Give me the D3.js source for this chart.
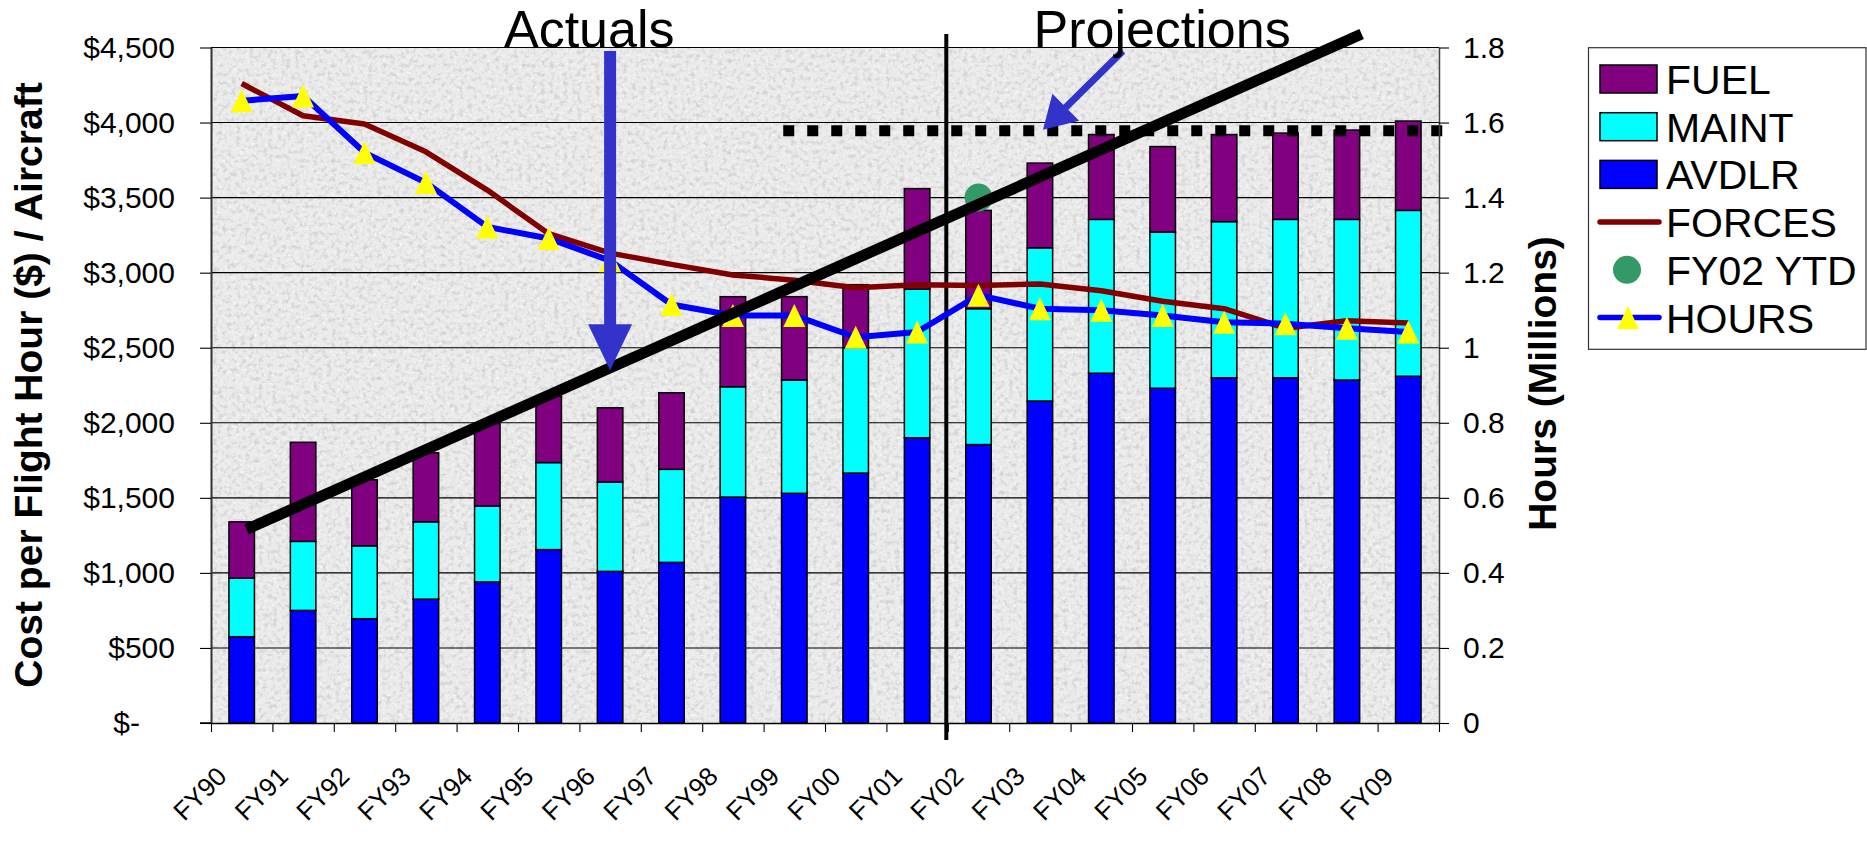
<!DOCTYPE html>
<html>
<head>
<meta charset="utf-8">
<script src="https://cdn.jsdelivr.net/npm/d3@7"></script>
<style>
  html, body { margin: 0; padding: 0; background: #ffffff; }
  svg { display: block; font-family: Arial, "Liberation Sans", sans-serif; }
</style>
</head>
<body>
<svg id="chart" width="1867" height="848"></svg>
<script>
// ---- Data: cost per flight hour components ($) and flying hours (millions) ----
const categories = ["FY90","FY91","FY92","FY93","FY94","FY95","FY96","FY97","FY98","FY99",
                    "FY00","FY01","FY02","FY03","FY04","FY05","FY06","FY07","FY08","FY09"];
const avdlr  = [575, 750, 695, 825, 940, 1155, 1010, 1070, 1505, 1530, 1665, 1900, 1855, 2145, 2330, 2230, 2300, 2300, 2285, 2310];
const maint  = [390, 460, 485, 515, 505, 580, 595, 620, 735, 755, 835, 990, 905, 1020, 1025, 1040, 1040, 1055, 1070, 1105];
const fuel   = [375, 660, 440, 460, 550, 445, 495, 510, 600, 555, 420, 670, 655, 565, 565, 570, 580, 575, 595, 595];
const forces = [4260, 4045, 3990, 3805, 3550, 3260, 3130, 3055, 2985, 2950, 2900, 2920, 2915, 2925, 2880, 2810, 2760, 2630, 2680, 2665];
const hours  = [1.658, 1.671, 1.52, 1.44, 1.322, 1.291, 1.232, 1.115, 1.086, 1.086, 1.028, 1.042, 1.14, 1.104, 1.10, 1.086, 1.068, 1.064, 1.052, 1.042];
const fy02Ytd = { index: 12, hours: 1.40 };

const costTicks = [0, 500, 1000, 1500, 2000, 2500, 3000, 3500, 4000, 4500];
const hourTicks = [0, 0.2, 0.4, 0.6, 0.8, 1.0, 1.2, 1.4, 1.6, 1.8];

// Annotation geometry in category units (x) and dollars (y)
const ceilingLevel = 3945;
const ceilingSpan = [9.32, 20.06];
const trendEnds = [[0.58, 1290], [18.74, 4590]];
const actualsArrow = [[6.5, 4476], [6.5, 2350]];
const projectionsArrow = [[14.85, 4476], [13.55, 3952]];
const phaseSplit = 12;   // boundary between FY01 and FY02

const seriesNames = ["AVDLR", "MAINT", "FUEL"];
const colors = { FUEL: "#800080", MAINT: "#00ffff", AVDLR: "#0000ff", FORCES: "#800000", YTD: "#339966", HOURS: "#0000ff", MARK: "#ffff00", NOTE: "#3333cc" };

// ---- Layout ----
const plot = { left: 211, right: 1439, top: 47.5, bottom: 723 };
const svg = d3.select("#chart");

const pos = d3.scaleLinear().domain([0, categories.length]).range([plot.left, plot.right]);
const yCost = d3.scaleLinear().domain([0, 4500]).range([plot.bottom, plot.top]);
const yHours = d3.scaleLinear().domain([0, 1.8]).range([plot.bottom, plot.top]);
const barW = 25.5;

// ---- Granite plot-area fill ----
const defs = svg.append("defs");
function noiseFilter(id, freq, seed, matrix) {
  const f = defs.append("filter").attr("id", id)
    .attr("filterUnits", "userSpaceOnUse")
    .attr("x", plot.left).attr("y", plot.top)
    .attr("width", plot.right - plot.left).attr("height", plot.bottom - plot.top);
  f.append("feTurbulence").attr("type", "fractalNoise")
    .attr("baseFrequency", freq).attr("numOctaves", 3).attr("seed", seed);
  f.append("feColorMatrix").attr("type", "matrix").attr("values", matrix);
}
noiseFilter("graniteDark", 0.22, 11, "0 0 0 0 0.5  0 0 0 0 0.5  0 0 0 0 0.5  2.8 0 0 0 -1.3");
noiseFilter("graniteLight", 0.35, 5, "0 0 0 0 1  0 0 0 0 1  0 0 0 0 1  -3 0 0 0 1.3");

const bg = svg.append("g");
bg.append("rect").attr("x", plot.left).attr("y", plot.top)
  .attr("width", plot.right - plot.left).attr("height", plot.bottom - plot.top)
  .attr("fill", "#ebebeb");
bg.append("rect").attr("x", plot.left).attr("y", plot.top)
  .attr("width", plot.right - plot.left).attr("height", plot.bottom - plot.top)
  .attr("fill", "#000").attr("filter", "url(#graniteDark)").attr("opacity", 0.55);
bg.append("rect").attr("x", plot.left).attr("y", plot.top)
  .attr("width", plot.right - plot.left).attr("height", plot.bottom - plot.top)
  .attr("fill", "#000").attr("filter", "url(#graniteLight)").attr("opacity", 0.8);

// ---- Gridlines ----
svg.append("g").selectAll("line")
  .data(costTicks.filter(d => d > 0))
  .join("line")
  .attr("x1", plot.left).attr("x2", plot.right)
  .attr("y1", d => yCost(d)).attr("y2", d => yCost(d))
  .attr("stroke", "#000").attr("stroke-width", 1.1);

// ---- Stacked bars ----
const rows = categories.map((c, i) => ({ cat: c, i, AVDLR: avdlr[i], MAINT: maint[i], FUEL: fuel[i] }));
const stacked = d3.stack().keys(seriesNames)(rows);
svg.append("g").selectAll("g")
  .data(stacked)
  .join("g")
  .attr("fill", s => colors[s.key])
  .selectAll("rect")
  .data(s => s)
  .join("rect")
  .attr("x", d => pos(d.data.i + 0.5) - barW / 2)
  .attr("width", barW)
  .attr("y", d => yCost(d[1]))
  .attr("height", d => yCost(d[0]) - yCost(d[1]))
  .attr("stroke", "#000").attr("stroke-width", 1.5);

// ---- Actuals / projections divider ----
svg.append("line")
  .attr("x1", pos(phaseSplit) - 1.5).attr("x2", pos(phaseSplit) - 1.5)
  .attr("y1", 34).attr("y2", 740)
  .attr("stroke", "#000").attr("stroke-width", 4);

// ---- Lines ----
const costLine = d3.line().x((d, i) => pos(i + 0.5)).y(d => yCost(d));
const hourLine = d3.line().x((d, i) => pos(i + 0.5)).y(d => yHours(d));

svg.append("path").datum(forces)
  .attr("d", costLine).attr("fill", "none")
  .attr("stroke", colors.FORCES).attr("stroke-width", 5.5).attr("stroke-linejoin", "round");

svg.append("path").datum(hours)
  .attr("d", hourLine).attr("fill", "none")
  .attr("stroke", colors.HOURS).attr("stroke-width", 6).attr("stroke-linejoin", "round");

const triW = 22, triH = 23;
const triPath = `M0,${-triH / 2}L${triW / 2},${triH / 2}L${-triW / 2},${triH / 2}Z`;
svg.append("g").selectAll("path")
  .data(hours)
  .join("path")
  .attr("d", triPath)
  .attr("transform", (d, i) => `translate(${pos(i + 0.5)},${yHours(d)})`)
  .attr("fill", colors.MARK);

// FY02 year-to-date point
svg.append("circle")
  .attr("cx", pos(fy02Ytd.index + 0.5)).attr("cy", yHours(fy02Ytd.hours))
  .attr("r", 14).attr("fill", colors.YTD);

// ---- Projected ceiling (dotted) ----
svg.append("line")
  .attr("x1", pos(ceilingSpan[0])).attr("x2", pos(ceilingSpan[1]))
  .attr("y1", yCost(ceilingLevel)).attr("y2", yCost(ceilingLevel))
  .attr("stroke", "#000").attr("stroke-width", 11)
  .attr("stroke-dasharray", "11 13");

// ---- Trend line ----
svg.append("path").datum(trendEnds)
  .attr("d", d3.line().x(d => pos(d[0])).y(d => yCost(d[1])))
  .attr("stroke", "#000").attr("stroke-width", 11).attr("fill", "none")
  .attr("stroke-linecap", "butt");

// ---- Callout arrows ----
function arrow(ends, shaftW, headL, headW) {
  const p0 = [pos(ends[0][0]), yCost(ends[0][1])];
  const p1 = [pos(ends[1][0]), yCost(ends[1][1])];
  const dx = p1[0] - p0[0], dy = p1[1] - p0[1];
  const len = Math.hypot(dx, dy), ux = dx / len, uy = dy / len, nx = -uy, ny = ux;
  const bx = p1[0] - ux * headL, by = p1[1] - uy * headL;
  const g = svg.append("g");
  g.append("line")
    .attr("x1", p0[0]).attr("y1", p0[1])
    .attr("x2", bx + ux * 2).attr("y2", by + uy * 2)
    .attr("stroke", colors.NOTE).attr("stroke-width", shaftW);
  g.append("path")
    .attr("d", `M${p1[0]},${p1[1]}L${bx + nx * headW / 2},${by + ny * headW / 2}L${bx - nx * headW / 2},${by - ny * headW / 2}Z`)
    .attr("fill", colors.NOTE);
}
arrow(actualsArrow, 12, 46, 44);
arrow(projectionsArrow, 7, 32, 38);

// ---- Axes ----
const fmtCost = d => d === 0 ? "$-" : "$" + d3.format(",")(d);
const leftAxis = svg.append("g")
  .attr("transform", `translate(${plot.left},0)`)
  .call(d3.axisLeft(yCost).tickValues(costTicks).tickSize(11).tickSizeOuter(0).tickPadding(25).tickFormat(fmtCost));
leftAxis.select(".domain").attr("stroke", "#333").attr("stroke-width", 2);
leftAxis.selectAll(".tick line").attr("stroke", "#000").attr("stroke-width", 1.1);
leftAxis.selectAll(".tick text")
  .attr("fill", "#000").style("font-size", "30px")
  .attr("dx", d => d === 0 ? -35 : 0);

const rightAxis = svg.append("g")
  .attr("transform", `translate(${plot.right},0)`)
  .call(d3.axisRight(yHours).tickValues(hourTicks).tickSize(10).tickSizeOuter(0).tickPadding(14)
    .tickFormat(d => String(+d.toFixed(1))));
rightAxis.select(".domain").attr("stroke", "#444").attr("stroke-width", 1.5);
rightAxis.selectAll(".tick line").attr("stroke", "#000").attr("stroke-width", 1.1);
rightAxis.selectAll(".tick text").attr("fill", "#000").style("font-size", "30px");

const bottomAxis = svg.append("g")
  .attr("transform", `translate(0,${plot.bottom})`)
  .call(d3.axisBottom(pos).tickValues(d3.range(categories.length + 1)).tickSize(9).tickSizeOuter(0).tickFormat(""));
bottomAxis.select(".domain").attr("stroke", "#000").attr("stroke-width", 1.5);
bottomAxis.selectAll(".tick line").attr("stroke", "#000").attr("stroke-width", 1.1);
svg.append("line")
  .attr("x1", plot.left - 11).attr("x2", plot.left)
  .attr("y1", plot.bottom).attr("y2", plot.bottom)
  .attr("stroke", "#000").attr("stroke-width", 1.5);

svg.append("g").selectAll("text")
  .data(categories)
  .join("text")
  .attr("transform", (d, i) => `translate(${pos(i + 0.5) - 13.4},778) rotate(-45)`)
  .attr("text-anchor", "end")
  .style("font-size", "26px")
  .attr("fill", "#000")
  .text(d => d);

// ---- Axis titles ----
svg.append("text")
  .attr("transform", `translate(42,385) rotate(-90)`)
  .attr("text-anchor", "middle")
  .style("font-size", "39px").style("font-weight", "bold")
  .text("Cost per Flight Hour ($) / Aircraft");

svg.append("text")
  .attr("transform", `translate(1556,383.5) rotate(-90)`)
  .attr("text-anchor", "middle")
  .style("font-size", "39px").style("font-weight", "bold")
  .text("Hours (Millions)");

// ---- Phase labels ----
svg.append("text")
  .attr("x", pos(6.16)).attr("y", 47)
  .attr("text-anchor", "middle").style("font-size", "52px")
  .text("Actuals");
svg.append("text")
  .attr("x", pos(15.49)).attr("y", 46.7)
  .attr("text-anchor", "middle").style("font-size", "52px")
  .text("Projections");

// ---- Legend ----
const legend = svg.append("g");
legend.append("rect")
  .attr("x", 1588.5).attr("y", 47.7).attr("width", 277.5).attr("height", 301.6)
  .attr("fill", "#fff").attr("stroke", "#333").attr("stroke-width", 1.2);

const legendItems = [
  { label: "FUEL", kind: "box", color: colors.FUEL },
  { label: "MAINT", kind: "box", color: colors.MAINT },
  { label: "AVDLR", kind: "box", color: colors.AVDLR },
  { label: "FORCES", kind: "line", color: colors.FORCES },
  { label: "FY02 YTD", kind: "dot", color: colors.YTD },
  { label: "HOURS", kind: "marker", color: colors.HOURS }
];
const rowY = i => 79 + i * 47.7;
const items = legend.selectAll("g.item").data(legendItems).join("g").attr("class", "item");
items.each(function (d, i) {
  const g = d3.select(this);
  const cy = rowY(i);
  if (d.kind === "box") {
    g.append("rect").attr("x", 1600).attr("y", cy - 14).attr("width", 57).attr("height", 28)
      .attr("fill", d.color).attr("stroke", "#000").attr("stroke-width", 1.5);
  } else if (d.kind === "line") {
    g.append("line").attr("x1", 1600).attr("x2", 1659).attr("y1", cy).attr("y2", cy)
      .attr("stroke", d.color).attr("stroke-width", 5.5).attr("stroke-linecap", "round");
  } else if (d.kind === "dot") {
    g.append("circle").attr("cx", 1627).attr("cy", cy).attr("r", 14).attr("fill", d.color);
  } else {
    g.append("line").attr("x1", 1600).attr("x2", 1659).attr("y1", cy).attr("y2", cy)
      .attr("stroke", d.color).attr("stroke-width", 5.5).attr("stroke-linecap", "round");
    g.append("path").attr("d", triPath).attr("transform", `translate(1628,${cy})`).attr("fill", colors.MARK);
  }
  g.append("text").attr("x", 1666).attr("y", cy + 15)
    .style("font-size", "41px").attr("fill", "#000").text(d.label);
});
</script>
</body>
</html>
